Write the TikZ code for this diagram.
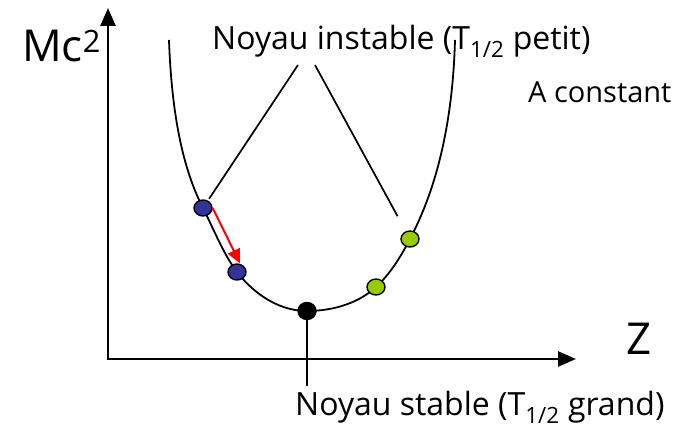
\documentclass[tikz,border=0pt]{standalone}
\usepackage{fontspec}
\setmainfont{Open Sans}
\usepackage{xcolor}
\usetikzlibrary{arrows.meta,shapes.geometric}
\definecolor{nublue}{RGB}{51,51,153}
\definecolor{nugreen}{RGB}{153,204,0}
\definecolor{nured}{RGB}{255,0,0}
\tikzset{
  axis/.style={line width=2.6pt, {Triangle[length=18pt,width=15pt]}-{Triangle[length=18pt,width=15pt]}},
  valley/.style={line width=1.8pt},
  nuc/.style={ellipse, draw=black, line width=1.4pt, minimum width=18pt,
              minimum height=16pt, inner sep=0pt},
  unsb/.style={nuc, fill=nublue},
  unsg/.style={nuc, fill=nugreen},
  stab/.style={nuc, fill=black, minimum width=18pt, minimum height=17pt},
  decay/.style={-{Triangle[length=14pt,width=13pt]}, line width=2pt, color=nured},
  lead/.style={line width=1.7pt},
  lbl/.style={font=\fontsize{32}{38}\selectfont, inner sep=0pt, anchor=base west},
  big/.style={font=\fontsize{44}{50}\selectfont, inner sep=0pt, anchor=base west},
}

\begin{document}
\begin{tikzpicture}[x=1pt, y=-1pt]
\useasboundingbox (0,0) rectangle (697,430);
% axes
\coordinate (o) at (108,359);
\coordinate (ytop) at (108,8);
\coordinate (xend) at (576,359);
\draw[axis] (ytop) -- (o) -- (xend);
% mass valley
\draw[valley] (169,40) .. controls (172,125) and (186,175) .. (203,208)
  .. controls (214,230) and (224,255) .. (237,272)
  .. controls (250,289) and (275,311) .. (307,311)
  .. controls (335,311) and (360,302) .. (376,287)
  .. controls (390,274) and (400,258) .. (410,239)
  .. controls (425,210) and (452,150) .. (455,40);
\node[unsb] (b1) at (203,208) {};
\node[unsb] (b2) at (237,272) {};
\node[stab] (s0) at (307,311) {};
\node[unsg] (g1) at (376,287) {};
\node[unsg] (g2) at (410,239) {};
\draw[decay] (b1.east) -- ([xshift=3pt]b2.north);
% labels
\node[big] (mc) at (22,62) {Mc\textsuperscript{2}};
\node[big] (z) at (626,355) {Z};
\node[lbl] (inst) at (212,50) {Noyau instable (T\textsubscript{1/2} petit)};
\node[lbl, font=\fontsize{29}{34}\selectfont] (cst) at (528,103) {A constant};
\node[lbl] (stable) at (295,416) {Noyau stable (T\textsubscript{1/2} grand)};
\coordinate (i1) at (298,65);
\coordinate (i2) at (315,65);
\draw[lead, shorten >=2pt] (i1) -- (b1);
\draw[lead, shorten >=17pt] (i2) -- (g2);
\draw[lead] (s0) -- ([yshift=5pt]s0 |- stable.north);
\end{tikzpicture}
\end{document}
